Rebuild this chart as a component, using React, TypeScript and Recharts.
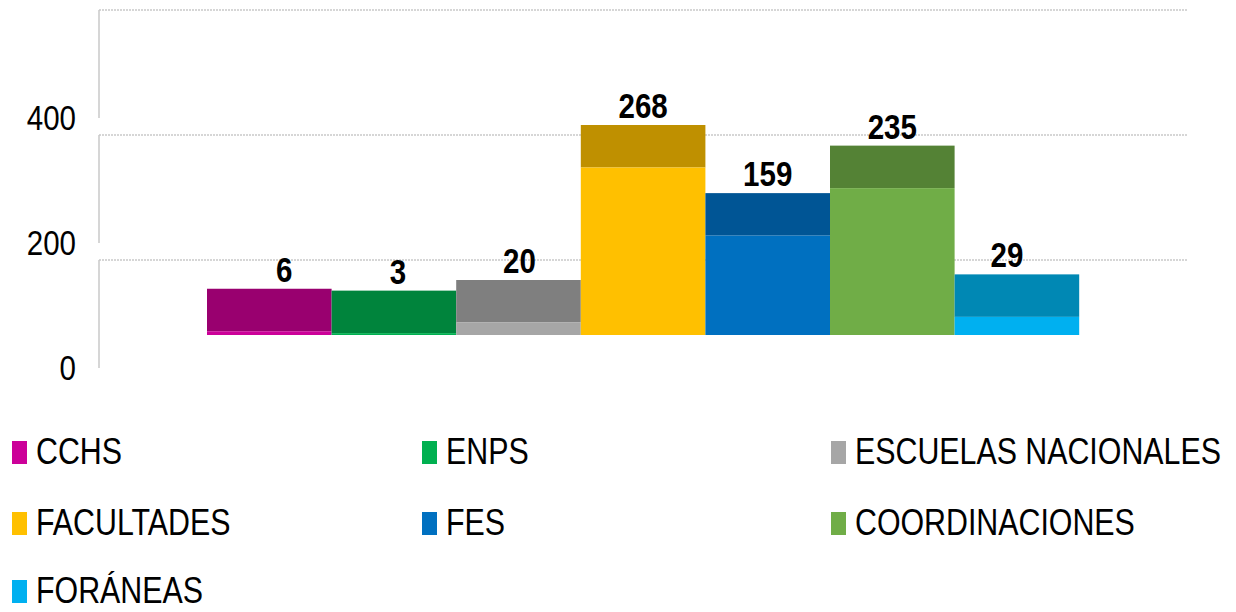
import React from 'react';
import { BarChart, Bar, XAxis, YAxis, CartesianGrid, Legend, LabelList } from 'recharts';

// ---------- data ----------
const categories = ['Total'];
const seriesKeys = ['cchs', 'enps', 'escuelas', 'facultades', 'fes', 'coordinaciones', 'foraneas'];
const seriesNames = ['CCHS', 'ENPS', 'ESCUELAS NACIONALES', 'FACULTADES', 'FES', 'COORDINACIONES', 'FORÁNEAS'];
const seriesValues = [6, 3, 20, 268, 159, 235, 29];
const yTickLabels = [0, 200, 400];
const gridValues = [200, 400, 600];

// ---------- style ----------
const FRONT_COLORS = ['#CC0099', '#00B050', '#A6A6A6', '#FFC000', '#0070C0', '#70AD47', '#00B0F0'];
const TOP_COLORS = ['#99006F', '#00843C', '#7F7F7F', '#BF9000', '#005595', '#548235', '#0088B4'];
const LABEL_DX = [15, 4, 1, 0, 0, 0, -10];
const DEPTH = 42.5;
const NARROW = 0.82;
const FONT = "'Liberation Sans', Arial, sans-serif";

const data = categories.map((name) => {
  const row: Record<string, any> = { name };
  seriesKeys.forEach((k, i) => {
    row[k] = seriesValues[i];
  });
  return row;
});

const makeShape = (front: string, top: string) => (props: any) => {
  const x = Number(props.x);
  const y = Number(props.y);
  const w = Number(props.width);
  const h = Number(props.height);
  return (
    <g>
      <rect x={x} y={y - DEPTH} width={w} height={DEPTH} fill={top} />
      <rect x={x} y={y} width={w} height={Math.max(h, 0)} fill={front} />
    </g>
  );
};

const makeLabel = (dx: number) => (props: any) => {
  const x = Number(props.x);
  const y = Number(props.y);
  const w = Number(props.width);
  return (
    <text
      transform={`translate(${x + w / 2 + dx} ${y - DEPTH - 7}) scale(${NARROW} 1)`}
      x={0}
      y={0}
      textAnchor="middle"
      fontFamily={FONT}
      fontWeight="bold"
      fontSize={36}
      fill="#000"
    >
      {props.value}
    </text>
  );
};

const YTick = (props: any) => {
  const { x, y, payload } = props;
  return (
    <text
      transform={`translate(${Number(x)} ${Number(y) - 5}) scale(${NARROW} 1)`}
      x={0}
      y={0}
      textAnchor="end"
      fontFamily={FONT}
      fontSize={36}
      fill="#000"
    >
      {payload.value}
    </text>
  );
};

const LEGEND_COLS = [12, 422, 831];
const LEGEND_ROWS = [67, 138, 206];

const LegendContent = () => (
  <div style={{ position: 'relative', width: 1236, height: 227 }}>
    {seriesNames.map((name, i) => {
      const col = i % 3;
      const row = Math.floor(i / 3);
      return (
        <div
          key={name}
          style={{
            position: 'absolute',
            left: LEGEND_COLS[col],
            top: LEGEND_ROWS[row] - 18,
            height: 36,
            display: 'flex',
            alignItems: 'center',
            whiteSpace: 'nowrap',
          }}
        >
          <span style={{ display: 'inline-block', width: 15, height: 23, background: FRONT_COLORS[i], marginRight: 9 }} />
          <span
            style={{
              display: 'inline-block',
              fontFamily: FONT,
              fontSize: 37,
              lineHeight: '36px',
              color: '#000',
              transform: `scaleX(${NARROW})`,
              transformOrigin: 'left center',
            }}
          >
            {name}
          </span>
        </div>
      );
    })}
  </div>
);

export default function App() {
  return (
    <div style={{ width: 1236, height: 612, margin: -8, background: '#fff', position: 'relative', overflow: 'hidden' }}>
      <BarChart
        width={1236}
        height={612}
        data={data}
        margin={{ top: 10, right: 48, left: 0, bottom: 0 }}
        barSize={124.6}
        barGap={0}
      >
        <CartesianGrid
          vertical={false}
          horizontalValues={gridValues}
          stroke="#c9c9c9"
          strokeWidth={1.5}
          strokeDasharray="2 1"
        />
        <XAxis dataKey="name" hide />
        <YAxis
          yAxisId={0}
          type="number"
          domain={[0, 600]}
          allowDataOverflow
          ticks={yTickLabels}
          width={99}
          tickSize={0}
          tickMargin={23}
          tick={<YTick />}
          tickLine={false}
          axisLine={{ stroke: '#c9c9c9', strokeWidth: 1.5, strokeDasharray: '108 17' }}
        />
        <YAxis yAxisId="bars" type="number" domain={[-80, 520]} hide allowDataOverflow />
        {seriesKeys.map((k, i) => (
          <Bar
            key={k}
            dataKey={k}
            name={seriesNames[i]}
            yAxisId="bars"
            fill={FRONT_COLORS[i]}
            shape={makeShape(FRONT_COLORS[i], TOP_COLORS[i])}
            isAnimationActive={false}
          >
            <LabelList dataKey={k} content={makeLabel(LABEL_DX[i])} />
          </Bar>
        ))}
        <Legend
          content={<LegendContent />}
          wrapperStyle={{ top: 385, left: 0, width: 1236, height: 227 }}
        />
      </BarChart>
    </div>
  );
}
